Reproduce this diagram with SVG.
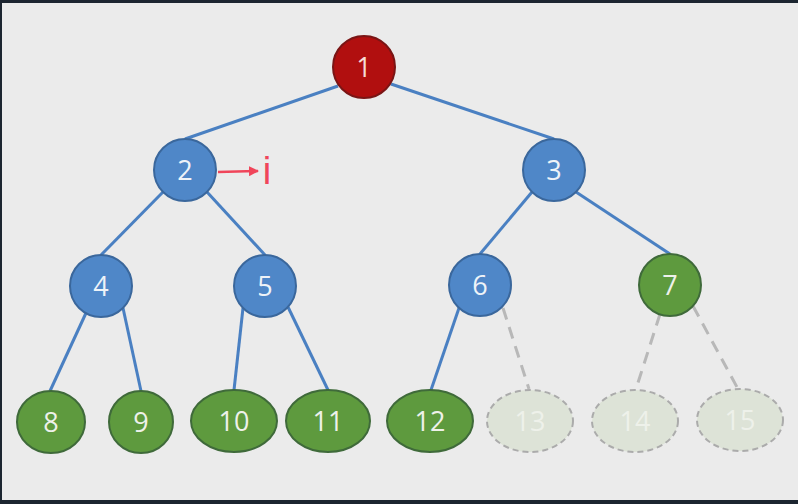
<svg xmlns="http://www.w3.org/2000/svg" width="798" height="504" viewBox="0 0 798 504">
<defs>
<marker id="ah" viewBox="0 0 10 10" refX="9" refY="5" markerWidth="4" markerHeight="4" orient="auto" markerUnits="strokeWidth">
<path d="M0,0 L10,5 L0,10 z" fill="#F0455A"/>
</marker>
<style>
.edge{stroke:#4A80C2;stroke-width:3;fill:none}
.dash{stroke:#B8B8B8;stroke-width:3;stroke-dasharray:12 8;fill:none}
.red{fill:#B10F0F;stroke:#7A1515;stroke-width:2}
.blue{fill:#4F87C8;stroke:#3A679C;stroke-width:2}
.green{fill:#5E9A3E;stroke:#3F6A3A;stroke-width:2}
.ghost{fill:#DDE3D7;stroke:#ABABAB;stroke-width:2;stroke-dasharray:6 4}
.t{font-family:"Open Sans","Liberation Sans",sans-serif;font-size:27px;fill:#EEF3F8;text-anchor:middle}
.tr{fill:#F6DCD6}
.tg{fill:#EEF1EA}
</style>
</defs>
<rect x="0" y="0" width="798" height="504" fill="#1C2530"/>
<rect x="2" y="3" width="796" height="497" fill="#EBEBEB"/>
<g id="connectors">
<line class="edge" x1="338" y1="86" x2="185" y2="139"/>
<line class="edge" x1="391" y1="84" x2="554" y2="139"/>
<line class="edge" x1="163" y1="192" x2="101" y2="255"/>
<line class="edge" x1="207" y1="192" x2="265" y2="255"/>
<line class="edge" x1="532" y1="192" x2="480" y2="254"/>
<line class="edge" x1="576" y1="192" x2="670" y2="254"/>
<line class="edge" x1="86" y1="313" x2="50" y2="391"/>
<line class="edge" x1="123" y1="308" x2="141" y2="391"/>
<line class="edge" x1="243" y1="308" x2="234" y2="390"/>
<line class="edge" x1="288" y1="307" x2="328" y2="390"/>
<line class="edge" x1="459" y1="308" x2="431" y2="390"/>
<line class="dash" x1="503" y1="308" x2="529" y2="389"/>
<line class="dash" x1="660" y1="314" x2="636" y2="389"/>
<line class="dash" x1="693" y1="306" x2="738" y2="389"/>
<line x1="218" y1="172" x2="258" y2="171" stroke="#F0455A" stroke-width="2.5" marker-end="url(#ah)"/>
</g>
<g id="node-1"><circle class="red" cx="364" cy="67" r="31"/><text class="t tr" x="364" y="77">1</text></g>
<g id="node-2"><circle class="blue" cx="185" cy="170" r="31"/><text class="t" x="185" y="180">2</text></g>
<g id="node-3"><circle class="blue" cx="554" cy="170" r="31"/><text class="t" x="554" y="180">3</text></g>
<g id="node-4"><circle class="blue" cx="101" cy="286" r="31"/><text class="t" x="101" y="296">4</text></g>
<g id="node-5"><circle class="blue" cx="265" cy="286" r="31"/><text class="t" x="265" y="296">5</text></g>
<g id="node-6"><circle class="blue" cx="480" cy="285" r="31"/><text class="t" x="480" y="295">6</text></g>
<g id="node-7"><circle class="green" cx="670" cy="285" r="31"/><text class="t tg" x="670" y="295">7</text></g>
<g id="node-8"><ellipse class="green" cx="51" cy="422" rx="34" ry="31"/><text class="t tg" x="51" y="432">8</text></g>
<g id="node-9"><ellipse class="green" cx="141" cy="422" rx="32" ry="31"/><text class="t tg" x="141" y="432">9</text></g>
<g id="node-10"><ellipse class="green" cx="234" cy="421" rx="43" ry="31"/><text class="t tg" x="234" y="431">10</text></g>
<g id="node-11"><ellipse class="green" cx="328" cy="421" rx="42" ry="31"/><text class="t tg" x="328" y="431">11</text></g>
<g id="node-12"><ellipse class="green" cx="430" cy="421" rx="43" ry="31"/><text class="t tg" x="430" y="431">12</text></g>
<g id="node-13"><ellipse class="ghost" cx="530" cy="421" rx="43" ry="31"/><text class="t tg" x="530" y="431">13</text></g>
<g id="node-14"><ellipse class="ghost" cx="635" cy="421" rx="43" ry="31"/><text class="t tg" x="635" y="431">14</text></g>
<g id="node-15"><ellipse class="ghost" cx="740" cy="420" rx="43" ry="31"/><text class="t tg" x="740" y="430">15</text></g>
<g id="label-i"><text x="267" y="184" font-family="Liberation Sans,sans-serif" font-size="38" fill="#F0455A" text-anchor="middle">i</text></g>
</svg>
